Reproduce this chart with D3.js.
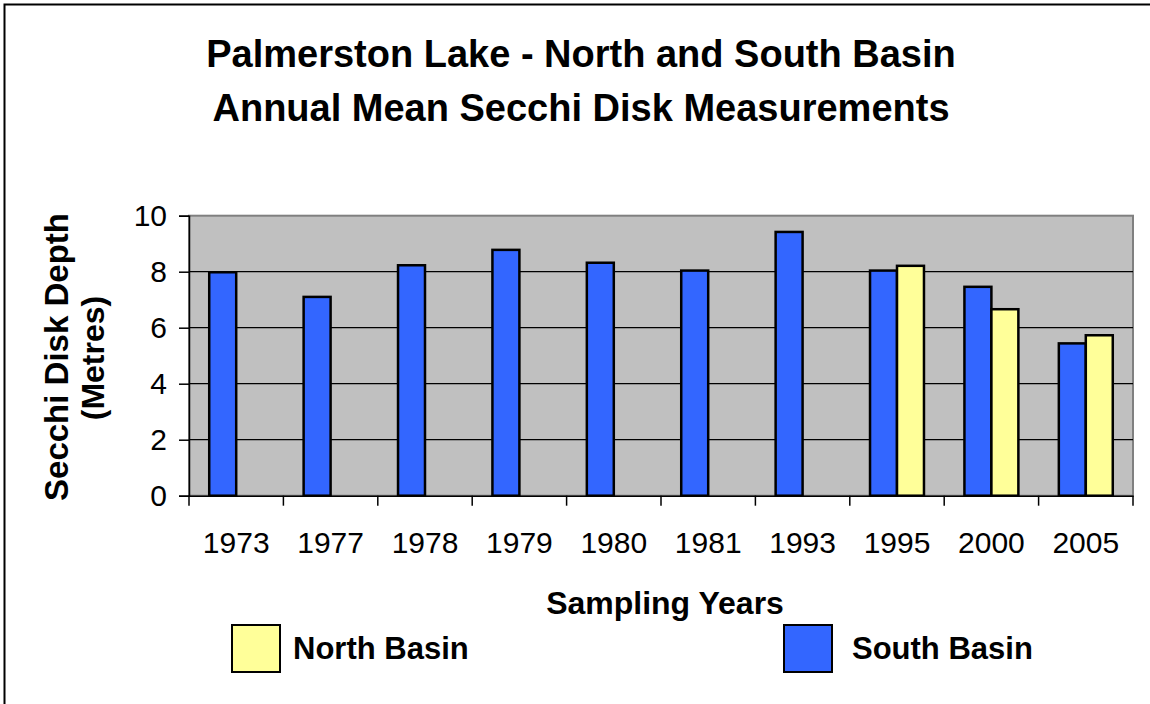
<!DOCTYPE html>
<html><head><meta charset="utf-8">
<script src="https://cdn.jsdelivr.net/npm/d3@7"></script>
<style>
html,body{margin:0;padding:0;background:#fff;}
svg{display:block;font-family:"Liberation Sans",Arial,sans-serif;}
</style></head>
<body>
<svg id="chart" width="1150" height="704"></svg>
<script>
const years = ["1973","1977","1978","1979","1980","1981","1993","1995","2000","2005"];
const southBasin = [7.98, 7.1, 8.23, 8.78, 8.32, 8.04, 9.42, 8.04, 7.46, 5.44];
const northBasin = [null, null, null, null, null, null, null, 8.21, 6.66, 5.73];
const yTicks = [0, 2, 4, 6, 8, 10];
const seriesNames = ["South Basin", "North Basin"];
const seriesColors = ["#3366FF", "#FFFF99"];
const titleLines = ["Palmerston Lake - North and South Basin", "Annual Mean Secchi Disk Measurements"];

const svg = d3.select("#chart");
const L = 189, R = 1133, T = 215.7, B = 495.7;

// outer border
svg.append("rect").attr("x",4.5).attr("y",4.5).attr("width",1160).attr("height",720)
  .attr("fill","#fff").attr("stroke","#000").attr("stroke-width",2);

const x = d3.scaleBand().domain(years).range([L, R]).padding(0);
const xs = d3.scaleBand().domain(seriesNames).range([0, x.bandwidth()]).paddingInner(0).paddingOuter(0.75);
const y = d3.scaleLinear().domain([0, 10]).range([B, T]);

// plot area
svg.append("rect").attr("x",L).attr("y",T).attr("width",R-L).attr("height",B-T)
  .attr("fill","#C0C0C0").attr("stroke","#808080").attr("stroke-width",2);

// gridlines
svg.append("g").selectAll("line").data(yTicks.filter(d=>d>0 && d<10)).join("line")
  .attr("x1",L).attr("x2",R).attr("y1",d=>y(d)).attr("y2",d=>y(d))
  .attr("stroke","#000").attr("stroke-width",1.2);

// bars
const rows = [];
years.forEach((yr,i)=>{
  rows.push({year:yr, s:"South Basin", v:southBasin[i], c:seriesColors[0]});
  if (northBasin[i] != null) rows.push({year:yr, s:"North Basin", v:northBasin[i], c:seriesColors[1]});
});
svg.append("g").selectAll("rect").data(rows).join("rect")
  .attr("x",d=>x(d.year)+xs(d.s))
  .attr("width",xs.bandwidth())
  .attr("y",d=>y(d.v))
  .attr("height",d=>B-y(d.v))
  .attr("fill",d=>d.c).attr("stroke","#000").attr("stroke-width",2.5);

// y axis
const yAxis = d3.axisLeft(y).tickValues(yTicks).tickSize(10).tickPadding(12).tickFormat(d3.format("d"));
const gy = svg.append("g").attr("transform",`translate(${L},0)`).call(yAxis);
gy.select(".domain").attr("stroke","#000").attr("stroke-width",1.5);
gy.selectAll(".tick line").attr("stroke","#000").attr("stroke-width",1.5);
gy.selectAll(".tick text").attr("font-size",30).attr("fill","#000").attr("font-family","Liberation Sans, Arial, sans-serif");

// x axis
const xAxis = d3.axisBottom(x).tickSize(0).tickPadding(36);
const gx = svg.append("g").attr("transform",`translate(0,${B})`).call(xAxis);
gx.select(".domain").attr("stroke","#000").attr("stroke-width",1.5);
gx.selectAll(".tick text").attr("font-size",30).attr("fill","#000").attr("font-family","Liberation Sans, Arial, sans-serif");
// category boundary ticks
const bounds = years.map(d=>x(d)).concat([R]);
svg.append("g").selectAll("line").data(bounds).join("line")
  .attr("x1",d=>d).attr("x2",d=>d).attr("y1",B).attr("y2",B+10)
  .attr("stroke","#000").attr("stroke-width",1.5);

// title
svg.append("g").selectAll("text").data(titleLines).join("text")
  .attr("x",581).attr("y",(d,i)=>67+i*54)
  .attr("text-anchor","middle").attr("font-size",38).attr("font-weight","bold")
  .text(d=>d);

// axis titles
svg.append("text").attr("transform","translate(68,357) rotate(-90)")
  .attr("text-anchor","middle").attr("font-size",33).attr("font-weight","bold").text("Secchi Disk Depth");
svg.append("text").attr("transform","translate(104,358) rotate(-90)")
  .attr("text-anchor","middle").attr("font-size",32).attr("font-weight","bold").text("(Metres)");
svg.append("text").attr("x",665).attr("y",614)
  .attr("text-anchor","middle").attr("font-size",32).attr("font-weight","bold").text("Sampling Years");

// legend
const legend = [
  {name:"North Basin", color:seriesColors[1], x:232},
  {name:"South Basin", color:seriesColors[0], x:784}
];
const lg = svg.append("g").selectAll("g").data(legend).join("g")
  .attr("transform",d=>`translate(${d.x},625)`);
lg.append("rect").attr("width",48).attr("height",47).attr("fill",d=>d.color)
  .attr("stroke","#000").attr("stroke-width",2);
lg.append("text").attr("x",d=>d.name==="North Basin"?61:68).attr("y",34)
  .attr("font-size",31).attr("font-weight","bold").text(d=>d.name);
</script>
</body></html>
